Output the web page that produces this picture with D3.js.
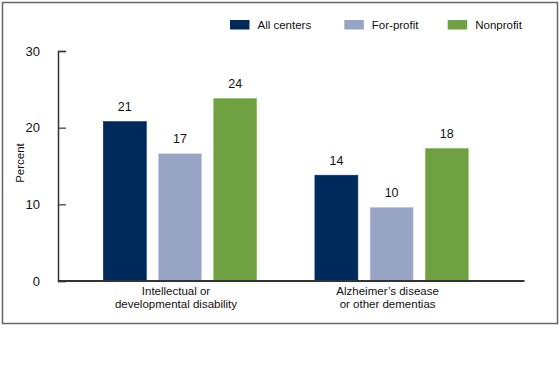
<!DOCTYPE html>
<html><head><meta charset="utf-8">
<script src="https://cdn.jsdelivr.net/npm/d3@7"></script>
<style>
body{margin:0;background:#fff;}
svg{display:block;font-family:Arial,"Liberation Sans",sans-serif;}
</style></head>
<body><svg id="chart" width="560" height="369"></svg>
<script>
const categories = ["Intellectual or\ndevelopmental disability", "Alzheimer\u2019s disease\nor other dementias"];
const seriesNames = ["All centers", "For-profit", "Nonprofit"];
const allCenters = [20.8, 13.8];
const forProfit = [16.6, 9.6];
const nonprofit = [23.8, 17.3];
const labelsAll = ["21", "14"];
const labelsFor = ["17", "10"];
const labelsNon = ["24", "18"];
const yTicks = [0, 10, 20, 30];
const colors = ["#002a5c", "#97a4c3", "#6fa041"];

const seriesVals = [allCenters, forProfit, nonprofit];
const seriesLabels = [labelsAll, labelsFor, labelsNon];

const svg = d3.select("#chart");

// frame
svg.append("rect").attr("x", 2.5).attr("y", 2.5).attr("width", 555).attr("height", 321)
  .attr("fill", "none").attr("stroke", "#666").attr("stroke-width", 1.5);

const y = d3.scaleLinear().domain([0, 30]).range([281, 51]);
const x0 = d3.scaleBand().domain(categories).range([103.3, 468.3]).paddingInner(0.275);
const x1 = d3.scaleBand().domain(seriesNames).range([0, x0.bandwidth()]).paddingInner(0.221);

// y axis
const yAxis = d3.axisLeft(y).tickValues(yTicks).tickSize(-8).tickPadding(18).tickFormat(d3.format("d"));
const ga = svg.append("g").attr("transform", "translate(58,0)").call(yAxis);
ga.select(".domain").attr("stroke", "#333").attr("stroke-width", 1.5);
ga.selectAll(".tick line").attr("stroke", "#333").attr("stroke-width", 1.2);
ga.selectAll(".tick text").attr("font-size", 13).attr("fill", "#111").attr("font-family", "Arial, Liberation Sans, sans-serif");

svg.append("text").attr("transform", "translate(24,163) rotate(-90)")
  .attr("text-anchor", "middle").attr("font-size", 11.5).attr("fill", "#111").text("Percent");

// bars
const groups = svg.selectAll("g.grp").data(categories).join("g").attr("class", "grp")
  .attr("transform", d => `translate(${x0(d)},0)`);

seriesNames.forEach((s, si) => {
  groups.append("rect")
    .attr("x", x1(s)).attr("width", x1.bandwidth())
    .attr("y", (d, i) => y(seriesVals[si][i]))
    .attr("height", (d, i) => y(0) - y(seriesVals[si][i]))
    .attr("fill", colors[si])
    .attr("stroke", d3.color(colors[si]).brighter(0.6)).attr("stroke-width", 0.6);
  groups.append("text")
    .attr("x", x1(s) + x1.bandwidth() / 2)
    .attr("y", (d, i) => y(seriesVals[si][i]) - 10.5)
    .attr("text-anchor", "middle").attr("font-size", 12.5).attr("fill", "#111")
    .text((d, i) => seriesLabels[si][i]);
});

// x axis line
svg.append("line").attr("x1", 58).attr("x2", 524.5).attr("y1", y(0)).attr("y2", y(0))
  .attr("stroke", "#333").attr("stroke-width", 1.8);

// category labels
categories.forEach(c => {
  const t = svg.append("text").attr("text-anchor", "middle").attr("font-size", 11.5).attr("fill", "#111");
  c.split("\n").forEach((line, li) => {
    t.append("tspan").attr("x", x0(c) + x0.bandwidth() / 2 - 4).attr("y", 295 + li * 12.5).text(line);
  });
});

// legend
const legX = [230, 344.3, 447.7];
seriesNames.forEach((s, i) => {
  svg.append("rect").attr("x", legX[i]).attr("y", 20).attr("width", 19.5).attr("height", 9.5).attr("fill", colors[i]);
  svg.append("text").attr("x", legX[i] + 27.5).attr("y", 29).attr("font-size", 11.5).attr("fill", "#111").text(s);
});
</script></body></html>
